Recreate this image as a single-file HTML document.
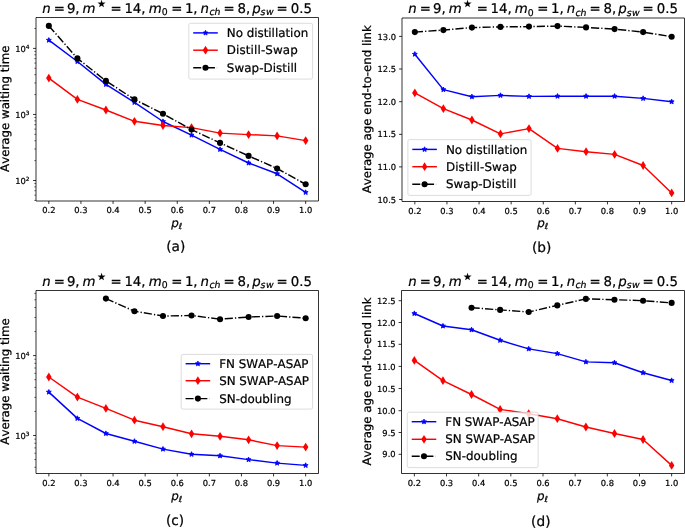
<!DOCTYPE html>
<html lang="en">
<head>
<meta charset="utf-8">
<title>Figure</title>
<style>
html,body{margin:0;padding:0;background:#fff;}
body{width:685px;height:528px;overflow:hidden;}
svg{display:block;will-change:transform;}
svg text{font-family:"DejaVu Sans", "Liberation Sans", sans-serif;fill:#000;stroke:#000;stroke-width:0.22px;paint-order:stroke;font-kerning:none;font-variant-ligatures:none;text-rendering:geometricPrecision;}
</style>
</head>
<body>
<svg width="685" height="528" viewBox="0 0 685 528">
<rect x="0" y="0" width="685" height="528" fill="#fff"/>
<g>
<polyline points="48.84,40.2 77.38,61.5 105.91,84.4 134.45,102.4 162.98,121.5 191.52,135.1 220.05,149.4 248.59,163 277.12,173.8 305.66,192.4" fill="none" stroke="#0000ff" stroke-width="1.45" stroke-linejoin="round"/>
<polygon points="48.84,37.6 49.54,39.23 51.31,39.4 49.98,40.57 50.37,42.3 48.84,41.4 47.31,42.3 47.7,40.57 46.37,39.4 48.14,39.23" fill="#0000ff" stroke="#0000ff" stroke-width="0.83" stroke-linejoin="miter"/>
<polygon points="77.38,58.9 78.08,60.53 79.85,60.7 78.51,61.87 78.9,63.6 77.38,62.7 75.85,63.6 76.24,61.87 74.9,60.7 76.67,60.53" fill="#0000ff" stroke="#0000ff" stroke-width="0.83" stroke-linejoin="miter"/>
<polygon points="105.91,81.8 106.61,83.43 108.38,83.6 107.05,84.77 107.44,86.5 105.91,85.6 104.38,86.5 104.77,84.77 103.44,83.6 105.21,83.43" fill="#0000ff" stroke="#0000ff" stroke-width="0.83" stroke-linejoin="miter"/>
<polygon points="134.45,99.8 135.15,101.43 136.92,101.6 135.58,102.77 135.98,104.5 134.45,103.6 132.92,104.5 133.31,102.77 131.97,101.6 133.74,101.43" fill="#0000ff" stroke="#0000ff" stroke-width="0.83" stroke-linejoin="miter"/>
<polygon points="162.98,118.9 163.69,120.53 165.46,120.7 164.12,121.87 164.51,123.6 162.98,122.7 161.45,123.6 161.84,121.87 160.51,120.7 162.28,120.53" fill="#0000ff" stroke="#0000ff" stroke-width="0.83" stroke-linejoin="miter"/>
<polygon points="191.52,132.5 192.22,134.13 193.99,134.3 192.66,135.47 193.05,137.2 191.52,136.3 189.99,137.2 190.38,135.47 189.04,134.3 190.81,134.13" fill="#0000ff" stroke="#0000ff" stroke-width="0.83" stroke-linejoin="miter"/>
<polygon points="220.05,146.8 220.76,148.43 222.53,148.6 221.19,149.77 221.58,151.5 220.05,150.6 218.52,151.5 218.92,149.77 217.58,148.6 219.35,148.43" fill="#0000ff" stroke="#0000ff" stroke-width="0.83" stroke-linejoin="miter"/>
<polygon points="248.59,160.4 249.29,162.03 251.06,162.2 249.73,163.37 250.12,165.1 248.59,164.2 247.06,165.1 247.45,163.37 246.12,162.2 247.89,162.03" fill="#0000ff" stroke="#0000ff" stroke-width="0.83" stroke-linejoin="miter"/>
<polygon points="277.12,171.2 277.83,172.83 279.6,173 278.26,174.17 278.65,175.9 277.12,175 275.6,175.9 275.99,174.17 274.65,173 276.42,172.83" fill="#0000ff" stroke="#0000ff" stroke-width="0.83" stroke-linejoin="miter"/>
<polygon points="305.66,189.8 306.36,191.43 308.13,191.6 306.8,192.77 307.19,194.5 305.66,193.6 304.13,194.5 304.52,192.77 303.19,191.6 304.96,191.43" fill="#0000ff" stroke="#0000ff" stroke-width="0.83" stroke-linejoin="miter"/>
<polyline points="48.84,78.1 77.38,99.4 105.91,110 134.45,121.3 162.98,125.5 191.52,127.6 220.05,133.1 248.59,134.6 277.12,135.9 305.66,140.6" fill="none" stroke="#ff0000" stroke-width="1.45" stroke-linejoin="round"/>
<polygon points="48.84,73.7 51.59,78.1 48.84,82.5 46.09,78.1" fill="#ff0000"/>
<polygon points="77.38,95 80.13,99.4 77.38,103.8 74.63,99.4" fill="#ff0000"/>
<polygon points="105.91,105.6 108.66,110 105.91,114.4 103.16,110" fill="#ff0000"/>
<polygon points="134.45,116.9 137.2,121.3 134.45,125.7 131.7,121.3" fill="#ff0000"/>
<polygon points="162.98,121.1 165.73,125.5 162.98,129.9 160.23,125.5" fill="#ff0000"/>
<polygon points="191.52,123.2 194.27,127.6 191.52,132 188.77,127.6" fill="#ff0000"/>
<polygon points="220.05,128.7 222.8,133.1 220.05,137.5 217.3,133.1" fill="#ff0000"/>
<polygon points="248.59,130.2 251.34,134.6 248.59,139 245.84,134.6" fill="#ff0000"/>
<polygon points="277.12,131.5 279.87,135.9 277.12,140.3 274.37,135.9" fill="#ff0000"/>
<polygon points="305.66,136.2 308.41,140.6 305.66,145 302.91,140.6" fill="#ff0000"/>
<polyline points="48.84,25.9 77.38,58.3 105.91,80.9 134.45,99.4 162.98,113.7 191.52,129.6 220.05,142.9 248.59,155.9 277.12,168.5 305.66,184.3" fill="none" stroke="#000000" stroke-width="1.45" stroke-linejoin="round" stroke-dasharray="8.19 2.05 1.28 2.05"/>
<circle cx="48.84" cy="25.9" r="3.05" fill="#000000"/>
<circle cx="77.38" cy="58.3" r="3.05" fill="#000000"/>
<circle cx="105.91" cy="80.9" r="3.05" fill="#000000"/>
<circle cx="134.45" cy="99.4" r="3.05" fill="#000000"/>
<circle cx="162.98" cy="113.7" r="3.05" fill="#000000"/>
<circle cx="191.52" cy="129.6" r="3.05" fill="#000000"/>
<circle cx="220.05" cy="142.9" r="3.05" fill="#000000"/>
<circle cx="248.59" cy="155.9" r="3.05" fill="#000000"/>
<circle cx="277.12" cy="168.5" r="3.05" fill="#000000"/>
<circle cx="305.66" cy="184.3" r="3.05" fill="#000000"/>
</g>
<path d="M36 17.5V201H318.5V17.5Z" fill="none" stroke="#000" stroke-width="0.8" stroke-linejoin="miter"/>
<line x1="48.84" y1="201" x2="48.84" y2="203.92" stroke="#000" stroke-width="0.8"/>
<text x="48.84" y="213.3" font-size="8.33" text-anchor="middle">0.2</text>
<line x1="80.94" y1="201" x2="80.94" y2="203.92" stroke="#000" stroke-width="0.8"/>
<text x="80.94" y="213.3" font-size="8.33" text-anchor="middle">0.3</text>
<line x1="113.05" y1="201" x2="113.05" y2="203.92" stroke="#000" stroke-width="0.8"/>
<text x="113.05" y="213.3" font-size="8.33" text-anchor="middle">0.4</text>
<line x1="145.15" y1="201" x2="145.15" y2="203.92" stroke="#000" stroke-width="0.8"/>
<text x="145.15" y="213.3" font-size="8.33" text-anchor="middle">0.5</text>
<line x1="177.25" y1="201" x2="177.25" y2="203.92" stroke="#000" stroke-width="0.8"/>
<text x="177.25" y="213.3" font-size="8.33" text-anchor="middle">0.6</text>
<line x1="209.35" y1="201" x2="209.35" y2="203.92" stroke="#000" stroke-width="0.8"/>
<text x="209.35" y="213.3" font-size="8.33" text-anchor="middle">0.7</text>
<line x1="241.45" y1="201" x2="241.45" y2="203.92" stroke="#000" stroke-width="0.8"/>
<text x="241.45" y="213.3" font-size="8.33" text-anchor="middle">0.8</text>
<line x1="273.56" y1="201" x2="273.56" y2="203.92" stroke="#000" stroke-width="0.8"/>
<text x="273.56" y="213.3" font-size="8.33" text-anchor="middle">0.9</text>
<line x1="305.66" y1="201" x2="305.66" y2="203.92" stroke="#000" stroke-width="0.8"/>
<text x="305.66" y="213.3" font-size="8.33" text-anchor="middle">1.0</text>
<line x1="33.08" y1="48.4" x2="36" y2="48.4" stroke="#000" stroke-width="0.8"/>
<text x="29.5" y="51.8" font-size="8.33" text-anchor="end">10<tspan font-size="5.83" dy="-2.6">4</tspan></text>
<line x1="33.08" y1="114.45" x2="36" y2="114.45" stroke="#000" stroke-width="0.8"/>
<text x="29.5" y="117.85" font-size="8.33" text-anchor="end">10<tspan font-size="5.83" dy="-2.6">3</tspan></text>
<line x1="33.08" y1="180.5" x2="36" y2="180.5" stroke="#000" stroke-width="0.8"/>
<text x="29.5" y="183.9" font-size="8.33" text-anchor="end">10<tspan font-size="5.83" dy="-2.6">2</tspan></text>
<line x1="34.33" y1="200.38" x2="36" y2="200.38" stroke="#000" stroke-width="0.6"/>
<line x1="34.33" y1="195.15" x2="36" y2="195.15" stroke="#000" stroke-width="0.6"/>
<line x1="34.33" y1="190.73" x2="36" y2="190.73" stroke="#000" stroke-width="0.6"/>
<line x1="34.33" y1="186.9" x2="36" y2="186.9" stroke="#000" stroke-width="0.6"/>
<line x1="34.33" y1="183.52" x2="36" y2="183.52" stroke="#000" stroke-width="0.6"/>
<line x1="34.33" y1="160.62" x2="36" y2="160.62" stroke="#000" stroke-width="0.6"/>
<line x1="34.33" y1="148.99" x2="36" y2="148.99" stroke="#000" stroke-width="0.6"/>
<line x1="34.33" y1="140.73" x2="36" y2="140.73" stroke="#000" stroke-width="0.6"/>
<line x1="34.33" y1="134.33" x2="36" y2="134.33" stroke="#000" stroke-width="0.6"/>
<line x1="34.33" y1="129.1" x2="36" y2="129.1" stroke="#000" stroke-width="0.6"/>
<line x1="34.33" y1="124.68" x2="36" y2="124.68" stroke="#000" stroke-width="0.6"/>
<line x1="34.33" y1="120.85" x2="36" y2="120.85" stroke="#000" stroke-width="0.6"/>
<line x1="34.33" y1="117.47" x2="36" y2="117.47" stroke="#000" stroke-width="0.6"/>
<line x1="34.33" y1="94.57" x2="36" y2="94.57" stroke="#000" stroke-width="0.6"/>
<line x1="34.33" y1="82.94" x2="36" y2="82.94" stroke="#000" stroke-width="0.6"/>
<line x1="34.33" y1="74.68" x2="36" y2="74.68" stroke="#000" stroke-width="0.6"/>
<line x1="34.33" y1="68.28" x2="36" y2="68.28" stroke="#000" stroke-width="0.6"/>
<line x1="34.33" y1="63.05" x2="36" y2="63.05" stroke="#000" stroke-width="0.6"/>
<line x1="34.33" y1="58.63" x2="36" y2="58.63" stroke="#000" stroke-width="0.6"/>
<line x1="34.33" y1="54.8" x2="36" y2="54.8" stroke="#000" stroke-width="0.6"/>
<line x1="34.33" y1="51.42" x2="36" y2="51.42" stroke="#000" stroke-width="0.6"/>
<line x1="34.33" y1="28.52" x2="36" y2="28.52" stroke="#000" stroke-width="0.6"/>
<text transform="translate(9.1 108.75) rotate(-90)" font-size="11.8" text-anchor="middle">Average waiting time</text>
<text x="176.75" y="227.1" font-size="11.9" font-style="oblique" text-anchor="middle">p<tspan font-size="8.33" dy="1.9">ℓ</tspan></text>
<text font-size="13.33" y="12.8">
<tspan x="42.13" y="12.8" font-style="oblique">n</tspan>
<tspan x="53.7" y="12.8">=</tspan>
<tspan x="66.9" y="12.8">9,</tspan>
<tspan x="82.6" y="12.8" font-style="oblique">m</tspan>
<tspan x="97.2" y="6.85" font-size="9.6">★</tspan>
<tspan x="110.6" y="12.8">=</tspan>
<tspan x="124.4" y="12.8">14,</tspan>
<tspan x="148.7" y="12.8" font-style="oblique">m</tspan>
<tspan x="161.8" y="15" font-size="9.33">0</tspan>
<tspan x="171.3" y="12.8">=</tspan>
<tspan x="184.9" y="12.8">1,</tspan>
<tspan x="200.6" y="12.8" font-style="oblique">n</tspan>
<tspan x="209.4" y="15" font-style="oblique" font-size="9.33">ch</tspan>
<tspan x="223.4" y="12.8">=</tspan>
<tspan x="237.5" y="12.8">8,</tspan>
<tspan x="252.2" y="12.8" font-style="oblique">p</tspan>
<tspan x="260.6" y="15" font-style="oblique" font-size="9.33" letter-spacing="0.6">sw</tspan>
<tspan x="276.4" y="12.8">=</tspan>
<tspan x="290.7" y="12.8">0.5</tspan>
</text>
<text x="175.75" y="250.8" font-size="13.7" text-anchor="middle">(a)</text>
<rect x="188.8" y="23.3" width="123.8" height="55.8" rx="1.7" ry="1.7" fill="#fff" fill-opacity="0.8" stroke="#ccc" stroke-opacity="0.8" stroke-width="0.83"/>
<line x1="193.2" y1="32.9" x2="217.8" y2="32.9" stroke="#0000ff" stroke-width="1.45"/>
<polygon points="205.5,30.3 206.2,31.93 207.97,32.1 206.64,33.27 207.03,35 205.5,34.1 203.97,35 204.36,33.27 203.03,32.1 204.8,31.93" fill="#0000ff" stroke="#0000ff" stroke-width="0.83" stroke-linejoin="miter"/>
<text x="226.8" y="37" font-size="11.9" textLength="81.4" lengthAdjust="spacing">No distillation</text>
<line x1="193.2" y1="50.2" x2="217.8" y2="50.2" stroke="#ff0000" stroke-width="1.45"/>
<polygon points="205.5,45.8 208.25,50.2 205.5,54.6 202.75,50.2" fill="#ff0000"/>
<text x="226.8" y="54.3" font-size="11.9" textLength="71.0" lengthAdjust="spacing">Distill-Swap</text>
<path d="M193.2 67.8h8M206.45 67.8h8.5" fill="none" stroke="#000" stroke-width="1.45"/>
<path d="M216.5 67.8h1.1" fill="none" stroke="#000" stroke-opacity="0.15" stroke-width="1.45"/>
<circle cx="205.5" cy="67.8" r="3.05" fill="#000000"/>
<text x="226.8" y="71.9" font-size="11.9" textLength="70.3" lengthAdjust="spacing">Swap-Distill</text>
<g>
<polyline points="414.84,54.2 443.38,89.6 471.91,96.7 500.45,95.4 528.98,96.4 557.52,96.2 586.05,96.2 614.59,96.2 643.12,98.4 671.66,101.7" fill="none" stroke="#0000ff" stroke-width="1.45" stroke-linejoin="round"/>
<polygon points="414.84,51.6 415.54,53.23 417.31,53.4 415.98,54.57 416.37,56.3 414.84,55.4 413.31,56.3 413.7,54.57 412.37,53.4 414.14,53.23" fill="#0000ff" stroke="#0000ff" stroke-width="0.83" stroke-linejoin="miter"/>
<polygon points="443.38,87 444.08,88.63 445.85,88.8 444.51,89.97 444.9,91.7 443.38,90.8 441.85,91.7 442.24,89.97 440.9,88.8 442.67,88.63" fill="#0000ff" stroke="#0000ff" stroke-width="0.83" stroke-linejoin="miter"/>
<polygon points="471.91,94.1 472.61,95.73 474.38,95.9 473.05,97.07 473.44,98.8 471.91,97.9 470.38,98.8 470.77,97.07 469.44,95.9 471.21,95.73" fill="#0000ff" stroke="#0000ff" stroke-width="0.83" stroke-linejoin="miter"/>
<polygon points="500.45,92.8 501.15,94.43 502.92,94.6 501.58,95.77 501.98,97.5 500.45,96.6 498.92,97.5 499.31,95.77 497.97,94.6 499.74,94.43" fill="#0000ff" stroke="#0000ff" stroke-width="0.83" stroke-linejoin="miter"/>
<polygon points="528.98,93.8 529.69,95.43 531.46,95.6 530.12,96.77 530.51,98.5 528.98,97.6 527.45,98.5 527.84,96.77 526.51,95.6 528.28,95.43" fill="#0000ff" stroke="#0000ff" stroke-width="0.83" stroke-linejoin="miter"/>
<polygon points="557.52,93.6 558.22,95.23 559.99,95.4 558.66,96.57 559.05,98.3 557.52,97.4 555.99,98.3 556.38,96.57 555.04,95.4 556.81,95.23" fill="#0000ff" stroke="#0000ff" stroke-width="0.83" stroke-linejoin="miter"/>
<polygon points="586.05,93.6 586.76,95.23 588.53,95.4 587.19,96.57 587.58,98.3 586.05,97.4 584.52,98.3 584.92,96.57 583.58,95.4 585.35,95.23" fill="#0000ff" stroke="#0000ff" stroke-width="0.83" stroke-linejoin="miter"/>
<polygon points="614.59,93.6 615.29,95.23 617.06,95.4 615.73,96.57 616.12,98.3 614.59,97.4 613.06,98.3 613.45,96.57 612.12,95.4 613.89,95.23" fill="#0000ff" stroke="#0000ff" stroke-width="0.83" stroke-linejoin="miter"/>
<polygon points="643.12,95.8 643.83,97.43 645.6,97.6 644.26,98.77 644.65,100.5 643.12,99.6 641.6,100.5 641.99,98.77 640.65,97.6 642.42,97.43" fill="#0000ff" stroke="#0000ff" stroke-width="0.83" stroke-linejoin="miter"/>
<polygon points="671.66,99.1 672.36,100.73 674.13,100.9 672.8,102.07 673.19,103.8 671.66,102.9 670.13,103.8 670.52,102.07 669.19,100.9 670.96,100.73" fill="#0000ff" stroke="#0000ff" stroke-width="0.83" stroke-linejoin="miter"/>
<polyline points="414.84,92.9 443.38,108.7 471.91,120 500.45,133.9 528.98,128.6 557.52,148.4 586.05,151.7 614.59,154.4 643.12,165.5 671.66,192.9" fill="none" stroke="#ff0000" stroke-width="1.45" stroke-linejoin="round"/>
<polygon points="414.84,88.5 417.59,92.9 414.84,97.3 412.09,92.9" fill="#ff0000"/>
<polygon points="443.38,104.3 446.13,108.7 443.38,113.1 440.63,108.7" fill="#ff0000"/>
<polygon points="471.91,115.6 474.66,120 471.91,124.4 469.16,120" fill="#ff0000"/>
<polygon points="500.45,129.5 503.2,133.9 500.45,138.3 497.7,133.9" fill="#ff0000"/>
<polygon points="528.98,124.2 531.73,128.6 528.98,133 526.23,128.6" fill="#ff0000"/>
<polygon points="557.52,144 560.27,148.4 557.52,152.8 554.77,148.4" fill="#ff0000"/>
<polygon points="586.05,147.3 588.8,151.7 586.05,156.1 583.3,151.7" fill="#ff0000"/>
<polygon points="614.59,150 617.34,154.4 614.59,158.8 611.84,154.4" fill="#ff0000"/>
<polygon points="643.12,161.1 645.87,165.5 643.12,169.9 640.37,165.5" fill="#ff0000"/>
<polygon points="671.66,188.5 674.41,192.9 671.66,197.3 668.91,192.9" fill="#ff0000"/>
<polyline points="414.84,32.1 443.38,30.1 471.91,27.6 500.45,26.9 528.98,26.6 557.52,26.1 586.05,27.4 614.59,29.1 643.12,32.1 671.66,36.7" fill="none" stroke="#000000" stroke-width="1.45" stroke-linejoin="round" stroke-dasharray="8.19 2.05 1.28 2.05"/>
<circle cx="414.84" cy="32.1" r="3.05" fill="#000000"/>
<circle cx="443.38" cy="30.1" r="3.05" fill="#000000"/>
<circle cx="471.91" cy="27.6" r="3.05" fill="#000000"/>
<circle cx="500.45" cy="26.9" r="3.05" fill="#000000"/>
<circle cx="528.98" cy="26.6" r="3.05" fill="#000000"/>
<circle cx="557.52" cy="26.1" r="3.05" fill="#000000"/>
<circle cx="586.05" cy="27.4" r="3.05" fill="#000000"/>
<circle cx="614.59" cy="29.1" r="3.05" fill="#000000"/>
<circle cx="643.12" cy="32.1" r="3.05" fill="#000000"/>
<circle cx="671.66" cy="36.7" r="3.05" fill="#000000"/>
</g>
<path d="M402 18V201.5H684.5V18Z" fill="none" stroke="#000" stroke-width="0.8" stroke-linejoin="miter"/>
<line x1="414.84" y1="201.5" x2="414.84" y2="204.42" stroke="#000" stroke-width="0.8"/>
<text x="414.84" y="213.8" font-size="8.33" text-anchor="middle">0.2</text>
<line x1="446.94" y1="201.5" x2="446.94" y2="204.42" stroke="#000" stroke-width="0.8"/>
<text x="446.94" y="213.8" font-size="8.33" text-anchor="middle">0.3</text>
<line x1="479.05" y1="201.5" x2="479.05" y2="204.42" stroke="#000" stroke-width="0.8"/>
<text x="479.05" y="213.8" font-size="8.33" text-anchor="middle">0.4</text>
<line x1="511.15" y1="201.5" x2="511.15" y2="204.42" stroke="#000" stroke-width="0.8"/>
<text x="511.15" y="213.8" font-size="8.33" text-anchor="middle">0.5</text>
<line x1="543.25" y1="201.5" x2="543.25" y2="204.42" stroke="#000" stroke-width="0.8"/>
<text x="543.25" y="213.8" font-size="8.33" text-anchor="middle">0.6</text>
<line x1="575.35" y1="201.5" x2="575.35" y2="204.42" stroke="#000" stroke-width="0.8"/>
<text x="575.35" y="213.8" font-size="8.33" text-anchor="middle">0.7</text>
<line x1="607.45" y1="201.5" x2="607.45" y2="204.42" stroke="#000" stroke-width="0.8"/>
<text x="607.45" y="213.8" font-size="8.33" text-anchor="middle">0.8</text>
<line x1="639.56" y1="201.5" x2="639.56" y2="204.42" stroke="#000" stroke-width="0.8"/>
<text x="639.56" y="213.8" font-size="8.33" text-anchor="middle">0.9</text>
<line x1="671.66" y1="201.5" x2="671.66" y2="204.42" stroke="#000" stroke-width="0.8"/>
<text x="671.66" y="213.8" font-size="8.33" text-anchor="middle">1.0</text>
<line x1="399.08" y1="36.4" x2="402" y2="36.4" stroke="#000" stroke-width="0.8"/>
<text x="396.1" y="39.5" font-size="8.33" text-anchor="end">13.0</text>
<line x1="399.08" y1="69" x2="402" y2="69" stroke="#000" stroke-width="0.8"/>
<text x="396.1" y="72.1" font-size="8.33" text-anchor="end">12.5</text>
<line x1="399.08" y1="101.7" x2="402" y2="101.7" stroke="#000" stroke-width="0.8"/>
<text x="396.1" y="104.8" font-size="8.33" text-anchor="end">12.0</text>
<line x1="399.08" y1="134.35" x2="402" y2="134.35" stroke="#000" stroke-width="0.8"/>
<text x="396.1" y="137.45" font-size="8.33" text-anchor="end">11.5</text>
<line x1="399.08" y1="166.9" x2="402" y2="166.9" stroke="#000" stroke-width="0.8"/>
<text x="396.1" y="170" font-size="8.33" text-anchor="end">11.0</text>
<line x1="399.08" y1="199.5" x2="402" y2="199.5" stroke="#000" stroke-width="0.8"/>
<text x="396.1" y="202.6" font-size="8.33" text-anchor="end">10.5</text>
<text transform="translate(370.8 109.25) rotate(-90)" font-size="11.8" text-anchor="middle">Average age end-to-end link</text>
<text x="542.75" y="227.1" font-size="11.9" font-style="oblique" text-anchor="middle">p<tspan font-size="8.33" dy="1.9">ℓ</tspan></text>
<text font-size="13.33" y="13.3">
<tspan x="408.2" y="13.3" font-style="oblique">n</tspan>
<tspan x="419.77" y="13.3">=</tspan>
<tspan x="432.97" y="13.3">9,</tspan>
<tspan x="448.67" y="13.3" font-style="oblique">m</tspan>
<tspan x="463.27" y="7.35" font-size="9.6">★</tspan>
<tspan x="476.67" y="13.3">=</tspan>
<tspan x="490.47" y="13.3">14,</tspan>
<tspan x="514.77" y="13.3" font-style="oblique">m</tspan>
<tspan x="527.87" y="15.5" font-size="9.33">0</tspan>
<tspan x="537.37" y="13.3">=</tspan>
<tspan x="550.97" y="13.3">1,</tspan>
<tspan x="566.67" y="13.3" font-style="oblique">n</tspan>
<tspan x="575.47" y="15.5" font-style="oblique" font-size="9.33">ch</tspan>
<tspan x="589.47" y="13.3">=</tspan>
<tspan x="603.57" y="13.3">8,</tspan>
<tspan x="618.27" y="13.3" font-style="oblique">p</tspan>
<tspan x="626.67" y="15.5" font-style="oblique" font-size="9.33" letter-spacing="0.6">sw</tspan>
<tspan x="642.47" y="13.3">=</tspan>
<tspan x="656.77" y="13.3">0.5</tspan>
</text>
<text x="541.7" y="251.5" font-size="13.7" text-anchor="middle">(b)</text>
<rect x="407.9" y="139.6" width="123.2" height="55.8" rx="1.7" ry="1.7" fill="#fff" fill-opacity="0.8" stroke="#ccc" stroke-opacity="0.8" stroke-width="0.83"/>
<line x1="412.3" y1="149.4" x2="436.9" y2="149.4" stroke="#0000ff" stroke-width="1.45"/>
<polygon points="424.6,146.8 425.3,148.43 427.07,148.6 425.74,149.77 426.13,151.5 424.6,150.6 423.07,151.5 423.46,149.77 422.13,148.6 423.9,148.43" fill="#0000ff" stroke="#0000ff" stroke-width="0.83" stroke-linejoin="miter"/>
<text x="445.9" y="153.5" font-size="11.9" textLength="81.4" lengthAdjust="spacing">No distillation</text>
<line x1="412.3" y1="166.7" x2="436.9" y2="166.7" stroke="#ff0000" stroke-width="1.45"/>
<polygon points="424.6,162.3 427.35,166.7 424.6,171.1 421.85,166.7" fill="#ff0000"/>
<text x="445.9" y="170.8" font-size="11.9" textLength="71.0" lengthAdjust="spacing">Distill-Swap</text>
<path d="M412.3 184.3h8M425.55 184.3h8.5" fill="none" stroke="#000" stroke-width="1.45"/>
<path d="M435.6 184.3h1.1" fill="none" stroke="#000" stroke-opacity="0.15" stroke-width="1.45"/>
<circle cx="424.6" cy="184.3" r="3.05" fill="#000000"/>
<text x="445.9" y="188.4" font-size="11.9" textLength="70.3" lengthAdjust="spacing">Swap-Distill</text>
<g>
<polyline points="48.84,392.1 77.38,418.4 105.91,433.5 134.45,441.3 162.98,449.1 191.52,454.3 220.05,455.8 248.59,459.6 277.12,463.1 305.66,465.4" fill="none" stroke="#0000ff" stroke-width="1.45" stroke-linejoin="round"/>
<polygon points="48.84,389.5 49.54,391.13 51.31,391.3 49.98,392.47 50.37,394.2 48.84,393.3 47.31,394.2 47.7,392.47 46.37,391.3 48.14,391.13" fill="#0000ff" stroke="#0000ff" stroke-width="0.83" stroke-linejoin="miter"/>
<polygon points="77.38,415.8 78.08,417.43 79.85,417.6 78.51,418.77 78.9,420.5 77.38,419.6 75.85,420.5 76.24,418.77 74.9,417.6 76.67,417.43" fill="#0000ff" stroke="#0000ff" stroke-width="0.83" stroke-linejoin="miter"/>
<polygon points="105.91,430.9 106.61,432.53 108.38,432.7 107.05,433.87 107.44,435.6 105.91,434.7 104.38,435.6 104.77,433.87 103.44,432.7 105.21,432.53" fill="#0000ff" stroke="#0000ff" stroke-width="0.83" stroke-linejoin="miter"/>
<polygon points="134.45,438.7 135.15,440.33 136.92,440.5 135.58,441.67 135.98,443.4 134.45,442.5 132.92,443.4 133.31,441.67 131.97,440.5 133.74,440.33" fill="#0000ff" stroke="#0000ff" stroke-width="0.83" stroke-linejoin="miter"/>
<polygon points="162.98,446.5 163.69,448.13 165.46,448.3 164.12,449.47 164.51,451.2 162.98,450.3 161.45,451.2 161.84,449.47 160.51,448.3 162.28,448.13" fill="#0000ff" stroke="#0000ff" stroke-width="0.83" stroke-linejoin="miter"/>
<polygon points="191.52,451.7 192.22,453.33 193.99,453.5 192.66,454.67 193.05,456.4 191.52,455.5 189.99,456.4 190.38,454.67 189.04,453.5 190.81,453.33" fill="#0000ff" stroke="#0000ff" stroke-width="0.83" stroke-linejoin="miter"/>
<polygon points="220.05,453.2 220.76,454.83 222.53,455 221.19,456.17 221.58,457.9 220.05,457 218.52,457.9 218.92,456.17 217.58,455 219.35,454.83" fill="#0000ff" stroke="#0000ff" stroke-width="0.83" stroke-linejoin="miter"/>
<polygon points="248.59,457 249.29,458.63 251.06,458.8 249.73,459.97 250.12,461.7 248.59,460.8 247.06,461.7 247.45,459.97 246.12,458.8 247.89,458.63" fill="#0000ff" stroke="#0000ff" stroke-width="0.83" stroke-linejoin="miter"/>
<polygon points="277.12,460.5 277.83,462.13 279.6,462.3 278.26,463.47 278.65,465.2 277.12,464.3 275.6,465.2 275.99,463.47 274.65,462.3 276.42,462.13" fill="#0000ff" stroke="#0000ff" stroke-width="0.83" stroke-linejoin="miter"/>
<polygon points="305.66,462.8 306.36,464.43 308.13,464.6 306.8,465.77 307.19,467.5 305.66,466.6 304.13,467.5 304.52,465.77 303.19,464.6 304.96,464.43" fill="#0000ff" stroke="#0000ff" stroke-width="0.83" stroke-linejoin="miter"/>
<polyline points="48.84,377 77.38,397.1 105.91,408.4 134.45,420.2 162.98,426.7 191.52,433.8 220.05,436.3 248.59,439.8 277.12,445.6 305.66,447.1" fill="none" stroke="#ff0000" stroke-width="1.45" stroke-linejoin="round"/>
<polygon points="48.84,372.6 51.59,377 48.84,381.4 46.09,377" fill="#ff0000"/>
<polygon points="77.38,392.7 80.13,397.1 77.38,401.5 74.63,397.1" fill="#ff0000"/>
<polygon points="105.91,404 108.66,408.4 105.91,412.8 103.16,408.4" fill="#ff0000"/>
<polygon points="134.45,415.8 137.2,420.2 134.45,424.6 131.7,420.2" fill="#ff0000"/>
<polygon points="162.98,422.3 165.73,426.7 162.98,431.1 160.23,426.7" fill="#ff0000"/>
<polygon points="191.52,429.4 194.27,433.8 191.52,438.2 188.77,433.8" fill="#ff0000"/>
<polygon points="220.05,431.9 222.8,436.3 220.05,440.7 217.3,436.3" fill="#ff0000"/>
<polygon points="248.59,435.4 251.34,439.8 248.59,444.2 245.84,439.8" fill="#ff0000"/>
<polygon points="277.12,441.2 279.87,445.6 277.12,450 274.37,445.6" fill="#ff0000"/>
<polygon points="305.66,442.7 308.41,447.1 305.66,451.5 302.91,447.1" fill="#ff0000"/>
<polyline points="105.91,298.6 134.45,311.2 162.98,316 191.52,315.5 220.05,319.2 248.59,317 277.12,316 305.66,318.2" fill="none" stroke="#000000" stroke-width="1.45" stroke-linejoin="round" stroke-dasharray="8.19 2.05 1.28 2.05"/>
<circle cx="105.91" cy="298.6" r="3.05" fill="#000000"/>
<circle cx="134.45" cy="311.2" r="3.05" fill="#000000"/>
<circle cx="162.98" cy="316" r="3.05" fill="#000000"/>
<circle cx="191.52" cy="315.5" r="3.05" fill="#000000"/>
<circle cx="220.05" cy="319.2" r="3.05" fill="#000000"/>
<circle cx="248.59" cy="317" r="3.05" fill="#000000"/>
<circle cx="277.12" cy="316" r="3.05" fill="#000000"/>
<circle cx="305.66" cy="318.2" r="3.05" fill="#000000"/>
</g>
<path d="M36 290.5V473.5H318.5V290.5Z" fill="none" stroke="#000" stroke-width="0.8" stroke-linejoin="miter"/>
<line x1="48.84" y1="473.5" x2="48.84" y2="476.42" stroke="#000" stroke-width="0.8"/>
<text x="48.84" y="485.8" font-size="8.33" text-anchor="middle">0.2</text>
<line x1="80.94" y1="473.5" x2="80.94" y2="476.42" stroke="#000" stroke-width="0.8"/>
<text x="80.94" y="485.8" font-size="8.33" text-anchor="middle">0.3</text>
<line x1="113.05" y1="473.5" x2="113.05" y2="476.42" stroke="#000" stroke-width="0.8"/>
<text x="113.05" y="485.8" font-size="8.33" text-anchor="middle">0.4</text>
<line x1="145.15" y1="473.5" x2="145.15" y2="476.42" stroke="#000" stroke-width="0.8"/>
<text x="145.15" y="485.8" font-size="8.33" text-anchor="middle">0.5</text>
<line x1="177.25" y1="473.5" x2="177.25" y2="476.42" stroke="#000" stroke-width="0.8"/>
<text x="177.25" y="485.8" font-size="8.33" text-anchor="middle">0.6</text>
<line x1="209.35" y1="473.5" x2="209.35" y2="476.42" stroke="#000" stroke-width="0.8"/>
<text x="209.35" y="485.8" font-size="8.33" text-anchor="middle">0.7</text>
<line x1="241.45" y1="473.5" x2="241.45" y2="476.42" stroke="#000" stroke-width="0.8"/>
<text x="241.45" y="485.8" font-size="8.33" text-anchor="middle">0.8</text>
<line x1="273.56" y1="473.5" x2="273.56" y2="476.42" stroke="#000" stroke-width="0.8"/>
<text x="273.56" y="485.8" font-size="8.33" text-anchor="middle">0.9</text>
<line x1="305.66" y1="473.5" x2="305.66" y2="476.42" stroke="#000" stroke-width="0.8"/>
<text x="305.66" y="485.8" font-size="8.33" text-anchor="middle">1.0</text>
<line x1="33.08" y1="355.6" x2="36" y2="355.6" stroke="#000" stroke-width="0.8"/>
<text x="29.5" y="359" font-size="8.33" text-anchor="end">10<tspan font-size="5.83" dy="-2.6">4</tspan></text>
<line x1="33.08" y1="435.5" x2="36" y2="435.5" stroke="#000" stroke-width="0.8"/>
<text x="29.5" y="438.9" font-size="8.33" text-anchor="end">10<tspan font-size="5.83" dy="-2.6">3</tspan></text>
<line x1="34.33" y1="467.3" x2="36" y2="467.3" stroke="#000" stroke-width="0.6"/>
<line x1="34.33" y1="459.55" x2="36" y2="459.55" stroke="#000" stroke-width="0.6"/>
<line x1="34.33" y1="453.23" x2="36" y2="453.23" stroke="#000" stroke-width="0.6"/>
<line x1="34.33" y1="447.88" x2="36" y2="447.88" stroke="#000" stroke-width="0.6"/>
<line x1="34.33" y1="443.24" x2="36" y2="443.24" stroke="#000" stroke-width="0.6"/>
<line x1="34.33" y1="439.16" x2="36" y2="439.16" stroke="#000" stroke-width="0.6"/>
<line x1="34.33" y1="411.45" x2="36" y2="411.45" stroke="#000" stroke-width="0.6"/>
<line x1="34.33" y1="397.38" x2="36" y2="397.38" stroke="#000" stroke-width="0.6"/>
<line x1="34.33" y1="387.4" x2="36" y2="387.4" stroke="#000" stroke-width="0.6"/>
<line x1="34.33" y1="379.65" x2="36" y2="379.65" stroke="#000" stroke-width="0.6"/>
<line x1="34.33" y1="373.33" x2="36" y2="373.33" stroke="#000" stroke-width="0.6"/>
<line x1="34.33" y1="367.98" x2="36" y2="367.98" stroke="#000" stroke-width="0.6"/>
<line x1="34.33" y1="363.34" x2="36" y2="363.34" stroke="#000" stroke-width="0.6"/>
<line x1="34.33" y1="359.26" x2="36" y2="359.26" stroke="#000" stroke-width="0.6"/>
<line x1="34.33" y1="331.55" x2="36" y2="331.55" stroke="#000" stroke-width="0.6"/>
<line x1="34.33" y1="317.48" x2="36" y2="317.48" stroke="#000" stroke-width="0.6"/>
<line x1="34.33" y1="307.5" x2="36" y2="307.5" stroke="#000" stroke-width="0.6"/>
<line x1="34.33" y1="299.75" x2="36" y2="299.75" stroke="#000" stroke-width="0.6"/>
<line x1="34.33" y1="293.43" x2="36" y2="293.43" stroke="#000" stroke-width="0.6"/>
<text transform="translate(9.1 381.5) rotate(-90)" font-size="11.8" text-anchor="middle">Average waiting time</text>
<text x="176.75" y="499.6" font-size="11.9" font-style="oblique" text-anchor="middle">p<tspan font-size="8.33" dy="1.9">ℓ</tspan></text>
<text font-size="13.33" y="285.8">
<tspan x="42.13" y="285.8" font-style="oblique">n</tspan>
<tspan x="53.7" y="285.8">=</tspan>
<tspan x="66.9" y="285.8">9,</tspan>
<tspan x="82.6" y="285.8" font-style="oblique">m</tspan>
<tspan x="97.2" y="279.85" font-size="9.6">★</tspan>
<tspan x="110.6" y="285.8">=</tspan>
<tspan x="124.4" y="285.8">14,</tspan>
<tspan x="148.7" y="285.8" font-style="oblique">m</tspan>
<tspan x="161.8" y="288" font-size="9.33">0</tspan>
<tspan x="171.3" y="285.8">=</tspan>
<tspan x="184.9" y="285.8">1,</tspan>
<tspan x="200.6" y="285.8" font-style="oblique">n</tspan>
<tspan x="209.4" y="288" font-style="oblique" font-size="9.33">ch</tspan>
<tspan x="223.4" y="285.8">=</tspan>
<tspan x="237.5" y="285.8">8,</tspan>
<tspan x="252.2" y="285.8" font-style="oblique">p</tspan>
<tspan x="260.6" y="288" font-style="oblique" font-size="9.33" letter-spacing="0.6">sw</tspan>
<tspan x="276.4" y="285.8">=</tspan>
<tspan x="290.7" y="285.8">0.5</tspan>
</text>
<text x="175.1" y="525.4" font-size="13.7" text-anchor="middle">(c)</text>
<rect x="181.2" y="354.4" width="131.4" height="54.7" rx="1.7" ry="1.7" fill="#fff" fill-opacity="0.8" stroke="#ccc" stroke-opacity="0.8" stroke-width="0.83"/>
<line x1="185.6" y1="363.7" x2="210.2" y2="363.7" stroke="#0000ff" stroke-width="1.45"/>
<polygon points="197.9,361.1 198.6,362.73 200.37,362.9 199.04,364.07 199.43,365.8 197.9,364.9 196.37,365.8 196.76,364.07 195.43,362.9 197.2,362.73" fill="#0000ff" stroke="#0000ff" stroke-width="0.83" stroke-linejoin="miter"/>
<text x="219.2" y="367.8" font-size="11.9" textLength="89.3" lengthAdjust="spacing">FN SWAP-ASAP</text>
<line x1="185.6" y1="380.7" x2="210.2" y2="380.7" stroke="#ff0000" stroke-width="1.45"/>
<polygon points="197.9,376.3 200.65,380.7 197.9,385.1 195.15,380.7" fill="#ff0000"/>
<text x="219.2" y="384.8" font-size="11.9" textLength="89.7" lengthAdjust="spacing">SN SWAP-ASAP</text>
<path d="M185.6 398.6h8M198.85 398.6h8.5" fill="none" stroke="#000" stroke-width="1.45"/>
<path d="M208.9 398.6h1.1" fill="none" stroke="#000" stroke-opacity="0.15" stroke-width="1.45"/>
<circle cx="197.9" cy="398.6" r="3.05" fill="#000000"/>
<text x="219.2" y="402.7" font-size="11.9">SN-doubling</text>
<g>
<polyline points="414.36,313.5 442.95,326 471.54,329.8 500.12,340.3 528.71,348.9 557.29,353.6 585.88,361.9 614.46,362.7 643.05,372.7 671.64,380.5" fill="none" stroke="#0000ff" stroke-width="1.45" stroke-linejoin="round"/>
<polygon points="414.36,310.9 415.07,312.53 416.84,312.7 415.5,313.87 415.89,315.6 414.36,314.7 412.84,315.6 413.23,313.87 411.89,312.7 413.66,312.53" fill="#0000ff" stroke="#0000ff" stroke-width="0.83" stroke-linejoin="miter"/>
<polygon points="442.95,323.4 443.65,325.03 445.42,325.2 444.09,326.37 444.48,328.1 442.95,327.2 441.42,328.1 441.81,326.37 440.48,325.2 442.25,325.03" fill="#0000ff" stroke="#0000ff" stroke-width="0.83" stroke-linejoin="miter"/>
<polygon points="471.54,327.2 472.24,328.83 474.01,329 472.67,330.17 473.06,331.9 471.54,331 470.01,331.9 470.4,330.17 469.06,329 470.83,328.83" fill="#0000ff" stroke="#0000ff" stroke-width="0.83" stroke-linejoin="miter"/>
<polygon points="500.12,337.7 500.82,339.33 502.59,339.5 501.26,340.67 501.65,342.4 500.12,341.5 498.59,342.4 498.98,340.67 497.65,339.5 499.42,339.33" fill="#0000ff" stroke="#0000ff" stroke-width="0.83" stroke-linejoin="miter"/>
<polygon points="528.71,346.3 529.41,347.93 531.18,348.1 529.84,349.27 530.24,351 528.71,350.1 527.18,351 527.57,349.27 526.23,348.1 528,347.93" fill="#0000ff" stroke="#0000ff" stroke-width="0.83" stroke-linejoin="miter"/>
<polygon points="557.29,351 558,352.63 559.77,352.8 558.43,353.97 558.82,355.7 557.29,354.8 555.76,355.7 556.16,353.97 554.82,352.8 556.59,352.63" fill="#0000ff" stroke="#0000ff" stroke-width="0.83" stroke-linejoin="miter"/>
<polygon points="585.88,359.3 586.58,360.93 588.35,361.1 587.02,362.27 587.41,364 585.88,363.1 584.35,364 584.74,362.27 583.41,361.1 585.18,360.93" fill="#0000ff" stroke="#0000ff" stroke-width="0.83" stroke-linejoin="miter"/>
<polygon points="614.46,360.1 615.17,361.73 616.94,361.9 615.6,363.07 615.99,364.8 614.46,363.9 612.94,364.8 613.33,363.07 611.99,361.9 613.76,361.73" fill="#0000ff" stroke="#0000ff" stroke-width="0.83" stroke-linejoin="miter"/>
<polygon points="643.05,370.1 643.75,371.73 645.52,371.9 644.19,373.07 644.58,374.8 643.05,373.9 641.52,374.8 641.91,373.07 640.58,371.9 642.35,371.73" fill="#0000ff" stroke="#0000ff" stroke-width="0.83" stroke-linejoin="miter"/>
<polygon points="671.64,377.9 672.34,379.53 674.11,379.7 672.77,380.87 673.16,382.6 671.64,381.7 670.11,382.6 670.5,380.87 669.16,379.7 670.93,379.53" fill="#0000ff" stroke="#0000ff" stroke-width="0.83" stroke-linejoin="miter"/>
<polyline points="414.36,360.4 442.95,380.7 471.54,394.5 500.12,409.4 528.71,413.7 557.29,418.7 585.88,427 614.46,433.5 643.05,439.5 671.64,465.4" fill="none" stroke="#ff0000" stroke-width="1.45" stroke-linejoin="round"/>
<polygon points="414.36,356 417.11,360.4 414.36,364.8 411.61,360.4" fill="#ff0000"/>
<polygon points="442.95,376.3 445.7,380.7 442.95,385.1 440.2,380.7" fill="#ff0000"/>
<polygon points="471.54,390.1 474.29,394.5 471.54,398.9 468.79,394.5" fill="#ff0000"/>
<polygon points="500.12,405 502.87,409.4 500.12,413.8 497.37,409.4" fill="#ff0000"/>
<polygon points="528.71,409.3 531.46,413.7 528.71,418.1 525.96,413.7" fill="#ff0000"/>
<polygon points="557.29,414.3 560.04,418.7 557.29,423.1 554.54,418.7" fill="#ff0000"/>
<polygon points="585.88,422.6 588.63,427 585.88,431.4 583.13,427" fill="#ff0000"/>
<polygon points="614.46,429.1 617.21,433.5 614.46,437.9 611.71,433.5" fill="#ff0000"/>
<polygon points="643.05,435.1 645.8,439.5 643.05,443.9 640.3,439.5" fill="#ff0000"/>
<polygon points="671.64,461 674.39,465.4 671.64,469.8 668.89,465.4" fill="#ff0000"/>
<polyline points="471.54,307.7 500.12,309.9 528.71,312 557.29,305.4 585.88,298.9 614.46,299.7 643.05,300.7 671.64,302.9" fill="none" stroke="#000000" stroke-width="1.45" stroke-linejoin="round" stroke-dasharray="8.19 2.05 1.28 2.05"/>
<circle cx="471.54" cy="307.7" r="3.05" fill="#000000"/>
<circle cx="500.12" cy="309.9" r="3.05" fill="#000000"/>
<circle cx="528.71" cy="312" r="3.05" fill="#000000"/>
<circle cx="557.29" cy="305.4" r="3.05" fill="#000000"/>
<circle cx="585.88" cy="298.9" r="3.05" fill="#000000"/>
<circle cx="614.46" cy="299.7" r="3.05" fill="#000000"/>
<circle cx="643.05" cy="300.7" r="3.05" fill="#000000"/>
<circle cx="671.64" cy="302.9" r="3.05" fill="#000000"/>
</g>
<path d="M401.5 290.5V473.5H684.5V290.5Z" fill="none" stroke="#000" stroke-width="0.8" stroke-linejoin="miter"/>
<line x1="414.36" y1="473.5" x2="414.36" y2="476.42" stroke="#000" stroke-width="0.8"/>
<text x="414.36" y="485.8" font-size="8.33" text-anchor="middle">0.2</text>
<line x1="446.52" y1="473.5" x2="446.52" y2="476.42" stroke="#000" stroke-width="0.8"/>
<text x="446.52" y="485.8" font-size="8.33" text-anchor="middle">0.3</text>
<line x1="478.68" y1="473.5" x2="478.68" y2="476.42" stroke="#000" stroke-width="0.8"/>
<text x="478.68" y="485.8" font-size="8.33" text-anchor="middle">0.4</text>
<line x1="510.84" y1="473.5" x2="510.84" y2="476.42" stroke="#000" stroke-width="0.8"/>
<text x="510.84" y="485.8" font-size="8.33" text-anchor="middle">0.5</text>
<line x1="543" y1="473.5" x2="543" y2="476.42" stroke="#000" stroke-width="0.8"/>
<text x="543" y="485.8" font-size="8.33" text-anchor="middle">0.6</text>
<line x1="575.16" y1="473.5" x2="575.16" y2="476.42" stroke="#000" stroke-width="0.8"/>
<text x="575.16" y="485.8" font-size="8.33" text-anchor="middle">0.7</text>
<line x1="607.32" y1="473.5" x2="607.32" y2="476.42" stroke="#000" stroke-width="0.8"/>
<text x="607.32" y="485.8" font-size="8.33" text-anchor="middle">0.8</text>
<line x1="639.48" y1="473.5" x2="639.48" y2="476.42" stroke="#000" stroke-width="0.8"/>
<text x="639.48" y="485.8" font-size="8.33" text-anchor="middle">0.9</text>
<line x1="671.64" y1="473.5" x2="671.64" y2="476.42" stroke="#000" stroke-width="0.8"/>
<text x="671.64" y="485.8" font-size="8.33" text-anchor="middle">1.0</text>
<line x1="398.58" y1="300.7" x2="401.5" y2="300.7" stroke="#000" stroke-width="0.8"/>
<text x="395.6" y="303.8" font-size="8.33" text-anchor="end">12.5</text>
<line x1="398.58" y1="322.5" x2="401.5" y2="322.5" stroke="#000" stroke-width="0.8"/>
<text x="395.6" y="325.6" font-size="8.33" text-anchor="end">12.0</text>
<line x1="398.58" y1="344.3" x2="401.5" y2="344.3" stroke="#000" stroke-width="0.8"/>
<text x="395.6" y="347.4" font-size="8.33" text-anchor="end">11.5</text>
<line x1="398.58" y1="366.4" x2="401.5" y2="366.4" stroke="#000" stroke-width="0.8"/>
<text x="395.6" y="369.5" font-size="8.33" text-anchor="end">11.0</text>
<line x1="398.58" y1="388.5" x2="401.5" y2="388.5" stroke="#000" stroke-width="0.8"/>
<text x="395.6" y="391.6" font-size="8.33" text-anchor="end">10.5</text>
<line x1="398.58" y1="410.7" x2="401.5" y2="410.7" stroke="#000" stroke-width="0.8"/>
<text x="395.6" y="413.8" font-size="8.33" text-anchor="end">10.0</text>
<line x1="398.58" y1="432.5" x2="401.5" y2="432.5" stroke="#000" stroke-width="0.8"/>
<text x="395.6" y="435.6" font-size="8.33" text-anchor="end">9.5</text>
<line x1="398.58" y1="454.3" x2="401.5" y2="454.3" stroke="#000" stroke-width="0.8"/>
<text x="395.6" y="457.4" font-size="8.33" text-anchor="end">9.0</text>
<text transform="translate(370.8 381.5) rotate(-90)" font-size="11.8" text-anchor="middle">Average age end-to-end link</text>
<text x="542.5" y="499.6" font-size="11.9" font-style="oblique" text-anchor="middle">p<tspan font-size="8.33" dy="1.9">ℓ</tspan></text>
<text font-size="13.33" y="285.8">
<tspan x="408.2" y="285.8" font-style="oblique">n</tspan>
<tspan x="419.77" y="285.8">=</tspan>
<tspan x="432.97" y="285.8">9,</tspan>
<tspan x="448.67" y="285.8" font-style="oblique">m</tspan>
<tspan x="463.27" y="279.85" font-size="9.6">★</tspan>
<tspan x="476.67" y="285.8">=</tspan>
<tspan x="490.47" y="285.8">14,</tspan>
<tspan x="514.77" y="285.8" font-style="oblique">m</tspan>
<tspan x="527.87" y="288" font-size="9.33">0</tspan>
<tspan x="537.37" y="285.8">=</tspan>
<tspan x="550.97" y="285.8">1,</tspan>
<tspan x="566.67" y="285.8" font-style="oblique">n</tspan>
<tspan x="575.47" y="288" font-style="oblique" font-size="9.33">ch</tspan>
<tspan x="589.47" y="285.8">=</tspan>
<tspan x="603.57" y="285.8">8,</tspan>
<tspan x="618.27" y="285.8" font-style="oblique">p</tspan>
<tspan x="626.67" y="288" font-style="oblique" font-size="9.33" letter-spacing="0.6">sw</tspan>
<tspan x="642.47" y="285.8">=</tspan>
<tspan x="656.77" y="285.8">0.5</tspan>
</text>
<text x="540.8" y="526.4" font-size="13.7" text-anchor="middle">(d)</text>
<rect x="407.3" y="412.2" width="130.8" height="55.4" rx="1.7" ry="1.7" fill="#fff" fill-opacity="0.8" stroke="#ccc" stroke-opacity="0.8" stroke-width="0.83"/>
<line x1="411.7" y1="421.7" x2="436.3" y2="421.7" stroke="#0000ff" stroke-width="1.45"/>
<polygon points="424,419.1 424.7,420.73 426.47,420.9 425.14,422.07 425.53,423.8 424,422.9 422.47,423.8 422.86,422.07 421.53,420.9 423.3,420.73" fill="#0000ff" stroke="#0000ff" stroke-width="0.83" stroke-linejoin="miter"/>
<text x="445.3" y="425.8" font-size="11.9" textLength="89.3" lengthAdjust="spacing">FN SWAP-ASAP</text>
<line x1="411.7" y1="439.3" x2="436.3" y2="439.3" stroke="#ff0000" stroke-width="1.45"/>
<polygon points="424,434.9 426.75,439.3 424,443.7 421.25,439.3" fill="#ff0000"/>
<text x="445.3" y="443.4" font-size="11.9" textLength="89.7" lengthAdjust="spacing">SN SWAP-ASAP</text>
<path d="M411.7 456.3h8M424.95 456.3h8.5" fill="none" stroke="#000" stroke-width="1.45"/>
<path d="M435 456.3h1.1" fill="none" stroke="#000" stroke-opacity="0.15" stroke-width="1.45"/>
<circle cx="424" cy="456.3" r="3.05" fill="#000000"/>
<text x="445.3" y="460.4" font-size="11.9">SN-doubling</text>
</svg>
</body>
</html>
